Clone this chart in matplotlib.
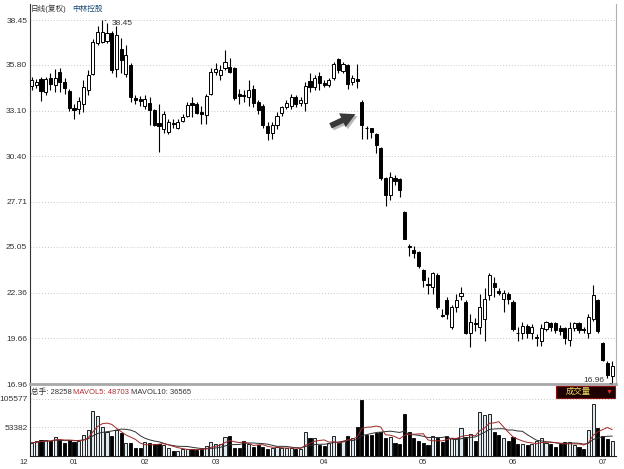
import matplotlib.pyplot as plt
import matplotlib.patches as mpatches
import numpy as np
import pandas as pd

plt.rcParams['font.family'] = ['Liberation Sans', 'Noto Sans CJK SC', 'DejaVu Sans']

# 日K线数据 (开, 高, 低, 收)
opens = [34.55, 34.6, 34.96, 34.2, 35.0, 34.6, 35.38, 34.79, 34.25, 33.25,
         33.2, 33.5, 34.3, 35.28, 37.1, 37.17, 37.2, 37.7, 35.57, 36.75,
         35.28, 35.77, 33.84, 33.8, 33.4, 33.55, 33.13, 32.35, 32.0, 31.85,
         32.35, 32.1, 32.5, 32.8, 33.55, 33.5, 33.0, 32.85, 34.1, 35.4,
         35.2, 35.6, 35.7, 35.6, 34.1, 34.05, 33.9, 34.4, 33.6, 33.4,
         32.2, 31.8, 32.25, 32.95, 33.3, 33.37, 33.9, 33.55, 33.55, 34.85,
         34.5, 35.14, 34.72, 34.6, 35.0, 36.15, 35.44, 35.8, 34.8, 34.95,
         33.6, 32.1, 32.08, 31.7, 30.9, 29.15, 28.1, 29.15, 29.05, 27.1,
         25.1, 24.85, 24.75, 23.7, 22.85, 22.7, 23.4, 21.05, 21.9, 20.3,
         21.5, 22.15, 21.8, 20.0, 20.55, 20.3, 20.8, 22.2, 22.9, 22.45,
         22.0, 22.3, 21.8, 20.0, 19.95, 20.4, 19.95, 19.7, 19.5, 20.2,
         20.55, 20.55, 20.25, 20.25, 19.55, 20.25, 20.55, 20.2, 20.0, 20.8,
         21.9, 19.4, 18.2, 17.45]
highs = [35.08, 34.95, 35.08, 35.1, 35.3, 35.57, 35.6, 35.0, 34.4, 33.5,
         33.9, 34.9, 35.5, 37.3, 38.1, 38.45, 38.3, 37.8, 38.1, 37.4,
         37.0, 35.9, 34.0, 33.95, 34.0, 33.9, 33.2, 33.5, 33.1, 32.6,
         32.6, 32.6, 32.9, 33.6, 33.9, 33.6, 33.4, 34.1, 35.6, 35.9,
         35.8, 36.7, 36.2, 35.7, 34.4, 34.3, 34.9, 34.6, 33.7, 33.5,
         32.4, 32.4, 33.0, 33.4, 33.7, 34.1, 34.0, 33.9, 34.8, 35.3,
         35.2, 35.4, 34.9, 35.0, 35.95, 36.2, 35.95, 35.85, 35.2, 35.85,
         33.7, 32.2, 32.1, 31.75, 30.95, 29.2, 29.5, 29.3, 29.1, 27.15,
         25.2, 25.1, 24.8, 23.75, 23.3, 23.6, 23.5, 21.4, 22.1, 21.6,
         22.3, 22.7, 21.9, 21.1, 20.85, 22.3, 22.6, 23.5, 23.3, 22.6,
         22.5, 22.4, 21.9, 20.3, 20.6, 20.5, 20.5, 19.9, 20.5, 20.7,
         20.65, 20.6, 20.45, 20.35, 20.6, 20.65, 20.6, 20.3, 21.1, 22.8,
         22.0, 19.45, 18.3, 18.3]
lows = [34.3, 34.45, 33.66, 34.0, 34.3, 34.2, 34.2, 34.1, 33.1, 32.6,
        32.9, 33.0, 34.0, 35.2, 37.0, 37.1, 37.1, 35.3, 35.1, 35.3,
        35.1, 33.6, 33.5, 33.4, 33.2, 32.25, 32.2, 30.65, 31.8, 31.7,
        32.1, 32.0, 32.4, 32.7, 32.7, 32.9, 32.3, 32.3, 34.0, 35.2,
        34.9, 35.5, 35.3, 33.7, 33.5, 33.6, 33.4, 33.3, 32.9, 32.1,
        31.35, 31.4, 32.0, 32.8, 33.2, 33.2, 33.3, 33.4, 33.1, 34.2,
        34.3, 34.3, 34.5, 34.5, 34.9, 35.3, 35.3, 34.4, 34.6, 34.43,
        31.4, 31.4, 31.5, 30.6, 29.0, 27.45, 27.8, 28.7, 27.99, 25.5,
        24.5, 24.4, 23.8, 22.7, 22.3, 22.3, 21.4, 20.9, 20.8, 20.2,
        21.2, 21.9, 19.9, 19.13, 20.1, 19.9, 19.5, 21.9, 22.1, 22.2,
        21.2, 21.7, 20.1, 19.5, 19.6, 19.7, 19.6, 19.2, 19.2, 20.1,
        20.1, 20.0, 19.85, 19.3, 19.2, 20.1, 20.0, 20.0, 19.7, 20.7,
        20.0, 18.3, 17.29, 16.96]
closes = [34.88, 34.8, 34.25, 34.98, 34.7, 35.0, 34.79, 34.43, 33.25, 33.13,
          33.66, 34.5, 35.2, 37.15, 37.75, 37.76, 37.7, 35.48, 37.56, 36.07,
          36.38, 33.9, 33.72, 33.68, 33.8, 33.13, 32.25, 32.2, 32.9, 32.4,
          32.3, 32.4, 32.75, 33.45, 33.45, 32.95, 32.9, 33.96, 35.4, 35.55,
          35.5, 36.0, 35.4, 33.85, 33.95, 33.95, 34.3, 33.55, 33.13, 32.25,
          31.8, 32.25, 32.8, 33.3, 33.55, 33.9, 33.5, 33.7, 34.55, 34.5,
          35.0, 34.72, 34.62, 34.9, 35.85, 35.5, 35.85, 34.7, 35.0, 34.87,
          32.24, 32.05, 31.85, 31.1, 29.1, 28.1, 29.2, 28.95, 28.4, 25.55,
          25.05, 24.7, 23.9, 23.1, 22.8, 23.5, 21.5, 20.95, 21.1, 21.5,
          21.9, 22.35, 20.0, 20.6, 20.5, 21.5, 22.0, 23.4, 22.7, 22.35,
          22.35, 21.95, 20.2, 19.95, 20.4, 19.95, 20.3, 19.7, 20.25, 20.65,
          20.3, 20.15, 20.1, 19.7, 20.25, 20.55, 20.15, 20.15, 20.9, 22.2,
          20.1, 18.4, 17.5, 18.05]

# 成交量 (手)
volumes = [24000, 27000, 29000, 30000, 28000, 35000, 30000, 24000, 30000, 25000,
           28000, 38000, 48000, 83000, 74000, 54000, 44000, 36000, 48000, 42000,
           24000, 24000, 15000, 15000, 26000, 24000, 22000, 22000, 20000, 15000,
           10000, 10000, 13000, 13000, 12000, 11000, 12000, 18000, 26000, 22000,
           23000, 35000, 36000, 15000, 15000, 28000, 22000, 17000, 20000, 17000,
           13000, 14000, 17000, 15000, 14000, 14000, 13000, 13000, 44000, 33000,
           33000, 20000, 18000, 24000, 36000, 24000, 27000, 36000, 33000, 54000,
           104000, 38000, 38000, 42000, 44000, 33000, 35000, 24000, 22000, 77000,
           44000, 33000, 27000, 24000, 20000, 36000, 33000, 26000, 36000, 33000,
           33000, 51000, 35000, 40000, 27000, 81000, 75000, 78000, 44000, 38000,
           33000, 27000, 35000, 22000, 22000, 20000, 22000, 27000, 33000, 24000,
           22000, 17000, 22000, 26000, 26000, 20000, 17000, 12000, 47135, 95000,
           52000, 37000, 31257, 28258]

price_ticks = [38.45, 35.80, 33.10, 30.40, 27.71, 25.05, 22.36, 19.66, 16.96]
vol_ticks = [105577, 53382]
month_labels = ['12', '01', '02', '03', '04', '05', '06', '07']
month_pos = [-1.7, 9, 24, 39, 62, 83, 102, 121]

df = pd.DataFrame({'o': opens, 'h': highs, 'l': lows, 'c': closes, 'v': volumes})
df['ma5'] = df['v'].rolling(5, min_periods=1).mean()
df['ma10'] = df['v'].rolling(10, min_periods=1).mean()
x = np.arange(len(df))
up = df['c'] >= df['o']

W, H = 624, 469
fig = plt.figure(figsize=(6.24, 4.69), dpi=100)
fig.patch.set_facecolor('white')

def fx(px):
    return px / W

def fy(py):
    return 1 - py / H

ax = fig.add_axes([fx(30), fy(384), fx(586), 380 / H])
axv = fig.add_axes([fx(30), fy(456), fx(586), 70 / H])

# K线
ax.vlines(x, df['l'], df['h'], color='black', lw=0.8, zorder=2)
bottoms = np.minimum(df['o'], df['c'])
heights = np.maximum(np.abs(df['c'] - df['o']), 0.03)
face = np.where(up, 'white', 'black')
ax.bar(x, heights, bottom=bottoms, width=0.66, color=face,
       edgecolor='black', linewidth=0.7, zorder=3)

ax.set_xlim(-0.32, 123.83)
ax.set_ylim(16.96, 38.45 + 16 / 16.92)
ax.set_yticks(price_ticks)
ax.set_yticklabels([f'{t:.2f}' for t in price_ticks], fontsize=6, color='#333333')
ax.tick_params(axis='y', length=0, pad=2)
ax.set_xticks([])
for t in price_ticks[:-1]:
    ax.axhline(t, color='#c8c8c8', lw=0.7, ls=(0, (1, 2)), zorder=0)
ax.spines['top'].set_visible(False)
ax.spines['left'].set_color('#333333')
ax.spines['right'].set_color('#b0b0b0')
ax.spines['bottom'].set_color('#a8a8a8')
ax.spines['bottom'].set_linewidth(2)

# 最高/最低标注
ih = int(np.argmax(df['h']))
il = int(np.argmin(df['l']))
ax.annotate(f"{df['h'][ih]:.2f}", xy=(ih, df['h'][ih]), xytext=(6.5, -2.5),
            textcoords='offset points', fontsize=6, va='center', ha='left',
            color='#333333', arrowprops=dict(arrowstyle='-', lw=0.6, color='#333333'))
ax.annotate(f"{df['l'][il]:.2f}", xy=(il, df['l'][il]), xytext=(-5.5, 2.5),
            textcoords='offset points', fontsize=6, va='center', ha='right',
            color='#333333', arrowprops=dict(arrowstyle='-', lw=0.6, color='#333333'))

# 箭头
fig_px = 'figure pixels'
arrow_style = 'simple,head_length=0.8,head_width=0.85,tail_width=0.32'
ax.annotate('', xy=(360, H - 115), xycoords=fig_px, xytext=(330, H - 129), textcoords=fig_px,
            arrowprops=dict(arrowstyle=arrow_style, mutation_scale=13, color='#b8b8b8', lw=0))
ax.annotate('', xy=(358, H - 113), xycoords=fig_px, xytext=(328, H - 127), textcoords=fig_px,
            arrowprops=dict(arrowstyle=arrow_style, mutation_scale=13, color='#383838', lw=0))

# 成交量
vface = np.where(up, '#dde9ef', 'black')
axv.bar(x, df['v'], width=0.66, color=vface, edgecolor='black', linewidth=0.6, zorder=3)
axv.plot(x, df['ma10'], color='#303030', lw=0.7, zorder=4)
axv.plot(x, df['ma5'], color='#a02828', lw=0.7, zorder=4)
axv.set_xlim(-0.32, 123.83)
axv.set_ylim(0, 70 * 1841)
axv.set_yticks(vol_ticks)
axv.set_yticklabels([str(v) for v in vol_ticks], fontsize=6, color='#333333')
axv.tick_params(axis='y', length=0, pad=1.5)
axv.set_xticks([])
for t in vol_ticks:
    axv.axhline(t, color='#c8c8c8', lw=0.7, ls=(0, (1, 2)), zorder=0)
for s in ['top', 'right']:
    axv.spines[s].set_visible(False)
axv.spines['left'].set_color('#333333')
axv.spines['bottom'].set_color('#222222')
for lab, p in zip(month_labels, month_pos):
    axv.text(p, -0.09, lab, transform=axv.get_xaxis_transform(), fontsize=5.5,
             ha='center', va='center', color='#333333', clip_on=False)

# 文字
fig.text(fx(31), fy(9), '日线(复权)', fontsize=5.5, color='#333333', va='center', ha='left')
fig.text(fx(72), fy(9), '中林控股', fontsize=5.5, color='#1f4e79', va='center', ha='left')
last = len(df) - 1
fig.text(fx(31), fy(392), f"总手: {int(df['v'][last])}", fontsize=5.5, color='#333333', va='center')
fig.text(fx(73), fy(392), f"MAVOL5: {int(round(df['ma5'][last]))}", fontsize=5.5,
         color='#b03030', va='center')
fig.text(fx(131), fy(392), f"MAVOL10: {int(round(df['ma10'][last]))}", fontsize=5.5,
         color='#333333', va='center')

box = mpatches.Rectangle((fx(556), fy(398)), fx(59), 12 / H, transform=fig.transFigure,
                         facecolor='#1e0202', edgecolor='#8a1010', lw=0.8, zorder=5)
fig.patches.append(box)
fig.text(fx(578), fy(392), '成交量', fontsize=6, color='#f0e060', va='center', ha='center', zorder=6)
fig.text(fx(609), fy(392), '▼', fontsize=5, color='#e03030', va='center', ha='center', zorder=6)

fig.savefig('out.png', dpi=100)
